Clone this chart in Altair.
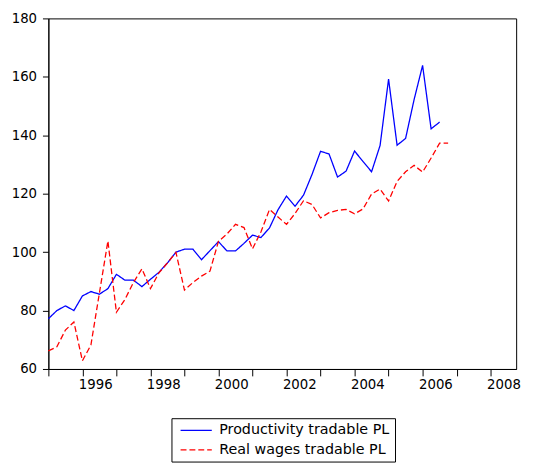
import altair as alt
import pandas as pd

series_names = ["Productivity tradable PL", "Real wages tradable PL"]
start_year = 1995  # first quarter: 1995Q1

productivity = [77.2, 80.0, 81.6, 80.0, 85.0, 86.5, 85.6, 87.5, 92.4, 90.4, 90.4, 88.2,
                90.7, 93.1, 96.3, 100.0, 101.0, 101.0, 97.4, 100.5, 103.6, 100.4, 100.4, 103.0,
                105.8, 105.0, 108.3, 114.5, 119.2, 115.7, 119.5, 126.6, 134.5, 133.6, 125.7, 127.7,
                134.6, 131.0, 127.5, 136.5, 159.2, 136.6, 138.9, 152.2, 163.9, 142.2, 144.5]
real_wages = [66.2, 67.6, 73.3, 76.1, 62.8, 68.2, 86.0, 103.8, 79.4, 83.8, 89.6, 94.3,
              87.5, 92.9, 96.3, 99.9, 87.0, 89.6, 91.8, 93.5, 103.7, 106.2, 109.5, 108.4,
              101.1, 107.0, 114.6, 112.0, 109.5, 113.2, 117.6, 116.3, 111.7, 113.5, 114.3, 114.6,
              113.1, 114.8, 119.9, 121.6, 117.5, 124.2, 127.5, 129.7, 127.4, 132.2, 137.3, 137.3]

year_ticks = list(range(1995, 2009))
y_ticks = [60, 80, 100, 120, 140, 160, 180]

rows = []
for name, vals in zip(series_names, [productivity, real_wages]):
    for i, v in enumerate(vals):
        rows.append({"t": start_year + i / 4, "series": name, "value": v})
df = pd.DataFrame(rows)

FONT = "DejaVu Sans"

legend = alt.Legend(title=None, orient="none", legendX=125, legendY=406)

chart = alt.Chart(df).mark_line(strokeWidth=1.3).encode(
    x=alt.X("t:Q",
            scale=alt.Scale(domain=[1995, 2008.75], nice=False, zero=False),
            axis=alt.Axis(values=year_ticks, title=None, grid=False,
                          labelExpr="datum.value % 2 == 0 ? toString(datum.value) : ''",
                          labelOffset=13, labelFlush=False, labelOverlap=False,
                          tickSize=7, labelPadding=2)),
    y=alt.Y("value:Q",
            scale=alt.Scale(domain=[60, 180], nice=False, zero=False),
            axis=alt.Axis(values=y_ticks, title=None, grid=False, tickSize=6,
                          labelPadding=6)),
    color=alt.Color("series:N",
                    scale=alt.Scale(domain=series_names, range=["#0000FF", "#FF0000"]),
                    legend=legend),
    strokeDash=alt.StrokeDash("series:N",
                              scale=alt.Scale(domain=series_names, range=[[1, 0], [6, 3]]),
                              legend=legend),
).properties(
    width=475,
    height=356,
    autosize=alt.AutoSizeParams(type="none"),
    padding={"left": 41, "top": 7, "right": 10, "bottom": 98},
).configure_view(
    stroke="black", strokeWidth=1
).configure_axis(
    domainColor="black", tickColor="black", labelColor="black",
    labelFont=FONT, labelFontSize=13.5, domainWidth=1, tickWidth=1
).configure_legend(
    strokeColor="black", fillColor="white", padding=5, cornerRadius=0,
    symbolType="M-0.6,0H5.74", symbolSize=100, symbolStrokeWidth=1.3,
    labelFont=FONT, labelFontSize=14.5, labelColor="black", labelOffset=29,
    rowPadding=5, labelLimit=400
)

chart.save("out.html", embed_options={"renderer": "svg", "actions": False})
